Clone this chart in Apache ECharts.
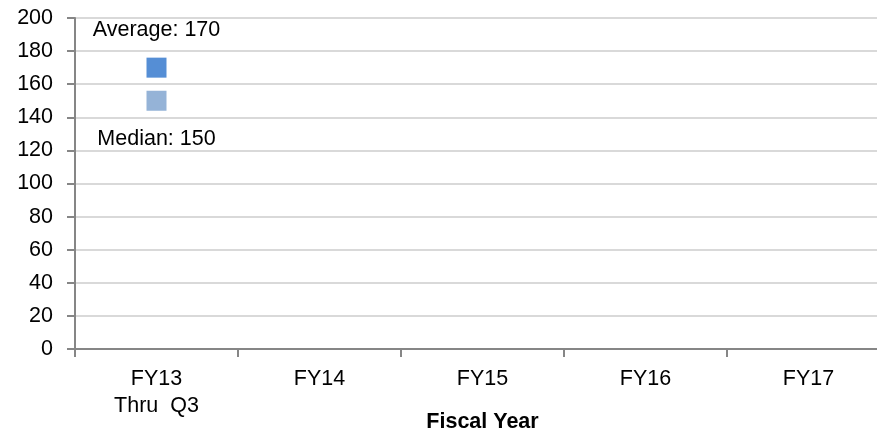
<!DOCTYPE html>
<html>
<head>
<meta charset="utf-8">
<script src="https://cdn.jsdelivr.net/npm/echarts@6/dist/echarts.min.js"></script>
<style>
html,body{margin:0;padding:0;background:#fff;}
#c{width:877px;height:431px;}
</style>
</head>
<body>
<div id="c"></div>
<script>
const categories = ["FY13\nThru  Q3", "FY14", "FY15", "FY16", "FY17"];
const averageValues = [170, null, null, null, null];
const medianValues = [150, null, null, null, null];
const yTicks = [0, 20, 40, 60, 80, 100, 120, 140, 160, 180, 200];

const FONT = "Liberation Sans, Arial, sans-serif";
const FS = 21.5;
const chart = echarts.init(document.getElementById('c'), null, {renderer: 'canvas'});
chart.setOption({
  animation: false,
  backgroundColor: '#fff',
  grid: {left: 75, top: 18, width: 815, height: 331, containLabel: false, outerBoundsMode: 'none'},
  xAxis: {
    type: 'category',
    data: categories,
    boundaryGap: true,
    name: 'Fiscal Year',
    nameLocation: 'middle',
    nameGap: 62,
    nameMoveOverlap: false,
    nameTextStyle: {fontFamily: FONT, fontSize: FS, fontWeight: 'bold', color: '#000'},
    axisLine: {lineStyle: {color: '#868686', width: 2}},
    axisTick: {show: true, length: 8, lineStyle: {color: '#868686', width: 2}},
    axisLabel: {fontFamily: FONT, fontSize: FS, color: '#000', margin: 17, lineHeight: 27, interval: 0},
    splitLine: {show: false}
  },
  yAxis: {
    type: 'value',
    min: yTicks[0],
    max: yTicks[yTicks.length - 1],
    interval: 20,
    axisLine: {show: true, lineStyle: {color: '#868686', width: 2}},
    axisTick: {show: true, length: 8, lineStyle: {color: '#868686', width: 2}},
    axisLabel: {fontFamily: FONT, fontSize: FS, color: '#000', margin: 22},
    splitLine: {show: true, lineStyle: {color: '#d9d9d9', width: 2}}
  },
  series: [
    {
      name: 'Average',
      type: 'scatter',
      data: averageValues,
      symbol: 'rect',
      symbolSize: 20,
      itemStyle: {color: '#558ED5', opacity: 1},
      label: {
        show: true, position: 'top', distance: 17,
        formatter: p => 'Average: ' + p.value,
        fontFamily: FONT, fontSize: FS, color: '#000'
      }
    },
    {
      name: 'Median',
      type: 'scatter',
      data: medianValues,
      symbol: 'rect',
      symbolSize: 20,
      itemStyle: {color: '#95B3D7', opacity: 1},
      label: {
        show: true, position: 'bottom', distance: 17,
        formatter: p => 'Median: ' + p.value,
        fontFamily: FONT, fontSize: FS, color: '#000'
      }
    }
  ]
});
</script>
</body>
</html>
